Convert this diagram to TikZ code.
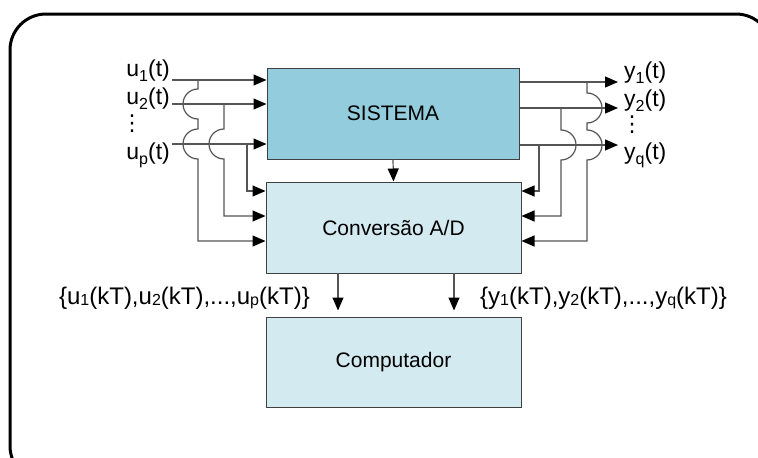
\documentclass[tikz,border=0pt]{standalone}
\usepackage{fontspec}
\setmainfont{Liberation Sans}
\newfontfamily\symfont{DejaVu Sans}
\usetikzlibrary{arrows.meta}
\definecolor{sysfill}{HTML}{93CDDD}
\definecolor{boxfill}{HTML}{D3EAF0}
\definecolor{wirecol}{HTML}{555555}
\definecolor{edgecol}{HTML}{404040}
% subscripts: lowered ones for the signal names, small ones for the samples
\newcommand\tsub[1]{\raisebox{-0.22em}{\fontsize{16}{16}\selectfont #1}}
\newcommand\ksub[1]{\raisebox{-0.08em}{\fontsize{16}{16}\selectfont #1}}
\newcommand\vdotsym{{\symfont\fontsize{22}{22}\selectfont ⋮}}
\begin{document}
\begin{tikzpicture}[x=1pt,y=-1pt,
  block/.style={draw=edgecol,line width=1pt,inner sep=0pt,
    font=\fontsize{21}{24}\selectfont},
  wire/.style={draw=wirecol,line width=1.2pt},
  arr/.style={wire,-{Triangle[length=13pt,width=11pt,color=black,fill=black]}},
  sig/.style={font=\fontsize{23}{26}\selectfont,inner sep=0pt},
  smp/.style={font=\fontsize{24}{27}\selectfont,inner sep=0pt},
]
\useasboundingbox (0,0) rectangle (758,458);
% outer frame, running past the page edges
\begin{scope}
  \clip (0,0) rectangle (758,458);
  \draw[line width=3pt,rounded corners=36pt] (10,14) rectangle (772,482);
\end{scope}

% blocks
\node[block,fill=sysfill,minimum width=252pt,minimum height=91pt] (sys) at (393,113.5) {SISTEMA};
\node[block,fill=boxfill,minimum width=255pt,minimum height=91pt] (conv) at (393.5,227.5) {Conversão A/D};
\node[block,fill=boxfill,minimum width=255pt,minimum height=90pt] (comp) at (393.5,362) {Computador};

% input labels
\node[sig,anchor=base east] (lu1) at (170,76) {u\tsub{1}(t)};
\node[sig,anchor=base east] (lu2) at (170,104) {u\tsub{2}(t)};
\node[sig] (ldots) at (132,124) {\vdotsym};
\node[sig,anchor=base east] (lup) at (170,159) {u\tsub{p}(t)};

% output labels
\node[sig,anchor=base west] (ly1) at (624,78) {y\tsub{1}(t)};
\node[sig,anchor=base west] (ly2) at (624,106) {y\tsub{2}(t)};
\node[sig] (rdots) at (632,125) {\vdotsym};
\node[sig,anchor=base west] (lyq) at (624,159) {y\tsub{q}(t)};

% sample labels
\node[smp,anchor=base east] (lus) at (310,304) {\{u\ksub{1}(kT),u\ksub{2}(kT),...,u\ksub{p}(kT)\}};
\node[smp,anchor=base west] (lys) at (480,304) {\{y\ksub{1}(kT),y\ksub{2}(kT),...,y\ksub{q}(kT)\}};

% input wires into the system
\coordinate (i1) at (172,80);
\coordinate (i2) at (172,104);
\coordinate (ip) at (172,144);
\draw[arr] (i1) -- (i1 -| sys.west);
\draw[arr] (i2) -- (i2 -| sys.west);
\draw[arr] (ip) -- (ip -| sys.west);

% input taps towards the converter, hopping over the lower wires
\coordinate (t1) at (198,80);  \coordinate (e1) at (198,241);
\coordinate (t2) at (224,104); \coordinate (e2) at (224,216);
\coordinate (tp) at (247,144); \coordinate (ep) at (247,191);
\draw[arr] (t1) -- (198,89) arc[start angle=90,end angle=270,radius=15pt]
  -- (198,129) arc[start angle=90,end angle=270,radius=15pt]
  -- (e1) -- (e1 -| conv.west);
\draw[arr] (t2) -- (224,129) arc[start angle=90,end angle=270,radius=15pt]
  -- (e2) -- (e2 -| conv.west);
\draw[arr] (tp) -- (ep) -- (ep -| conv.west);

% output wires
\coordinate (o1) at (618,82);
\coordinate (o2) at (618,108);
\coordinate (oq) at (618,145);
\draw[arr] (o1 -| sys.east) -- (o1);
\draw[arr] (o2 -| sys.east) -- (o2);
\draw[arr] (oq -| sys.east) -- (oq);

% output taps back into the converter
\coordinate (s1) at (587,82);  \coordinate (f1) at (587,241);
\coordinate (s2) at (561,108); \coordinate (f2) at (561,216);
\coordinate (sq) at (539,145); \coordinate (fq) at (539,191);
\draw[arr] (s1) -- (587,93) arc[start angle=90,end angle=-90,radius=15pt]
  -- (587,130) arc[start angle=90,end angle=-90,radius=15pt]
  -- (f1) -- (f1 -| conv.east);
\draw[arr] (s2) -- (561,130) arc[start angle=90,end angle=-90,radius=15pt]
  -- (f2) -- (f2 -| conv.east);
\draw[arr] (sq) -- (fq) -- (fq -| conv.east);

% system to converter, converter to computer
\draw[arr] (sys.south) -- (conv.north);
\coordinate (d1) at (338,273);
\coordinate (d2) at (454,273);
\draw[arr] (d1) -- ([yshift=6pt]d1 |- comp.north);
\draw[arr] (d2) -- ([yshift=6pt]d2 |- comp.north);
\end{tikzpicture}
\end{document}
